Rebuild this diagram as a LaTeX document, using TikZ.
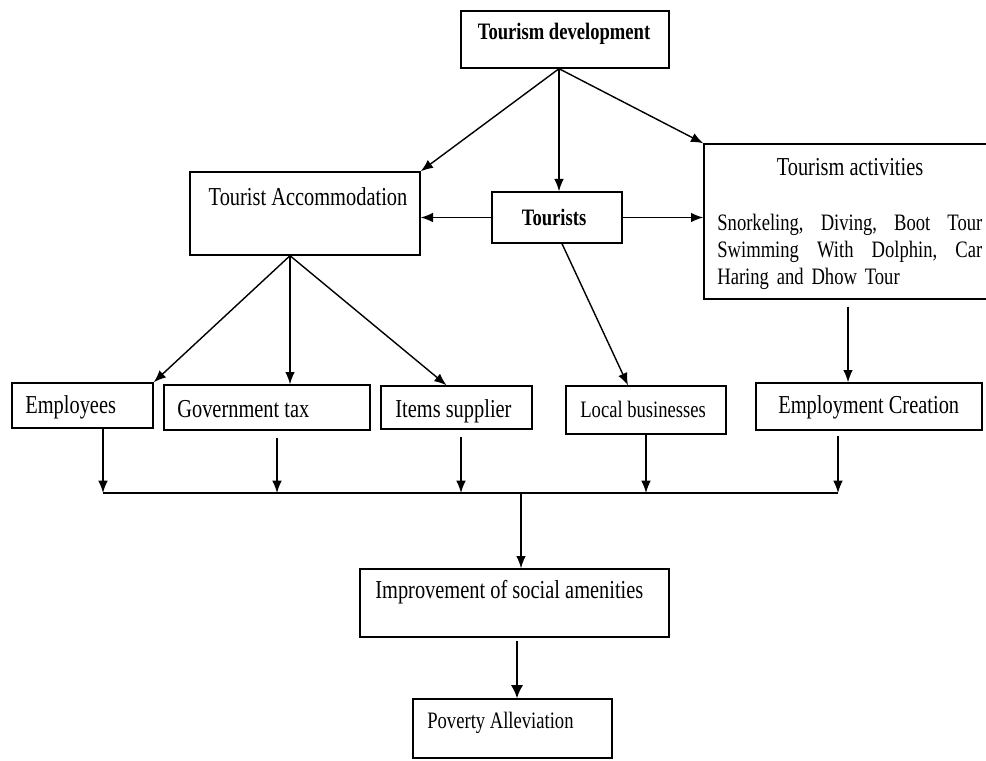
\documentclass[tikz,border=0pt]{standalone}
\usepackage{fontspec}
\setmainfont[FakeStretch=0.79]{Liberation Serif}
\usetikzlibrary{fit,arrows.meta}

\begin{document}
\begin{tikzpicture}[x=0.02cm,y=-0.02cm]

% styles
\tikzstyle{box}      = [draw=black,line width=0.8pt,inner sep=0pt]
\tikzstyle{link}     = [line width=0.8pt,-{Latex[length=7pt,width=5.5pt]}]
\tikzstyle{bus}      = [line width=0.8pt]
\tikzstyle{bigarrow} = [line width=1.2pt,-{Latex[length=7.5pt,width=7pt]}]
\tikzstyle{big}      = [inner sep=0pt,font=\fontsize{14.7}{17}\selectfont]
\tikzstyle{small}    = [inner sep=0pt,font=\fontsize{13.4}{15.3}\selectfont]

% box named #1 from corner #2 to corner #3
\newcommand{\boxfit}[3]{
	\node[box,fit={#2 #3}] (#1) {};
}

% page
\useasboundingbox (0,0) rectangle (986,760);

% boxes
\boxfit{dev}{(461,11)}{(669,68)}
\boxfit{acc}{(190,172)}{(420,255)}
\boxfit{tur}{(492,192)}{(622,243)}
\boxfit{act}{(704,144)}{(992,299)}
\boxfit{emp}{(12,383)}{(153,428)}
\boxfit{gov}{(164,385)}{(370,430)}
\boxfit{sup}{(381,386)}{(532,429)}
\boxfit{loc}{(566,386)}{(726,434)}
\boxfit{ec}{(756,383)}{(982,430)}
\boxfit{imp}{(360,569)}{(669,637)}
\boxfit{pov}{(413,699)}{(612,758)}

% texts
\node[small,anchor=base] (devt) at (564,40) {\bfseries Tourism development};
\node[big,anchor=base] (acct) at (308,205) {Tourist Accommodation};
\node[small,anchor=base] (turt) at (554,225) {\bfseries Tourists};
\node[big,anchor=base] (actt) at (850,175) {Tourism activities};
\node[small,anchor=north west,text width=5.3cm] (acts) at (717,214)
	{Snorkeling,\hfill Diving,\hfill Boot\hfill Tour\\
	 Swimming\hfill With\hfill Dolphin,\hfill Car\\
	 Haring and Dhow Tour};
\node[big,anchor=base west] (empt) at (25,413) {Employees};
\node[big,anchor=base west] (govt) at (177,417) {Government tax};
\node[big,anchor=base west] (supt) at (395,417) {Items supplier};
\node[small,anchor=base west] (loct) at (580,417) {Local businesses};
\node[big,anchor=base west] (ect) at (778,413) {Employment Creation};
\node[big,anchor=base west] (impt) at (375,598) {Improvement of social amenities};
\node[small,anchor=base west] (povt) at (427,728) {Poverty Alleviation};

% arrows from the top
\coordinate (devs) at ([xshift=-1.2mm]dev.south);
\draw[link] (devs) -- (acc.north east);
\draw[link] (devs) -- (devs |- tur.north);
\draw[link] (devs) -- (act.north west);
\draw[link] (tur.west) -- (tur.west -| acc.east);
\draw[link] (tur.east) -- (tur.east -| act.west);

% second level
\coordinate (accs) at ([xshift=-3mm]acc.south);
\draw[link] (accs) -- (emp.north east);
\draw[link] (accs) -- (accs |- gov.north);
\draw[link] (accs) -- ([xshift=-2mm]sup.north);
\draw[link] ([xshift=1mm]tur.south) -- ([xshift=-3.6mm]loc.north);
\draw[link,shorten <=4pt] (act.south) -- (act.south |- ec.north);

% collecting line
\coordinate (b1) at (103,493);
\coordinate (b2) at (277,493);
\coordinate (b3) at (461,493);
\coordinate (b4) at (646,493);
\coordinate (b5) at (838,493);
\coordinate (bm) at (521,493);
\draw[bus] (b1) -- (b5);
\draw[link] (b1 |- emp.south) -- (b1);
\draw[link,shorten <=4pt] (b2 |- gov.south) -- (b2);
\draw[link,shorten <=4pt] (b3 |- sup.south) -- (b3);
\draw[link] (b4 |- loc.south) -- (b4);
\draw[link,shorten <=3pt] (b5 |- ec.south) -- (b5);

% bottom
\draw[link] (bm) -- (bm |- imp.north);
\coordinate (imps) at ([xshift=0.5mm]imp.south);
\draw[bigarrow,shorten <=2pt] (imps) -- (imps |- pov.north);

\end{tikzpicture}
\end{document}
